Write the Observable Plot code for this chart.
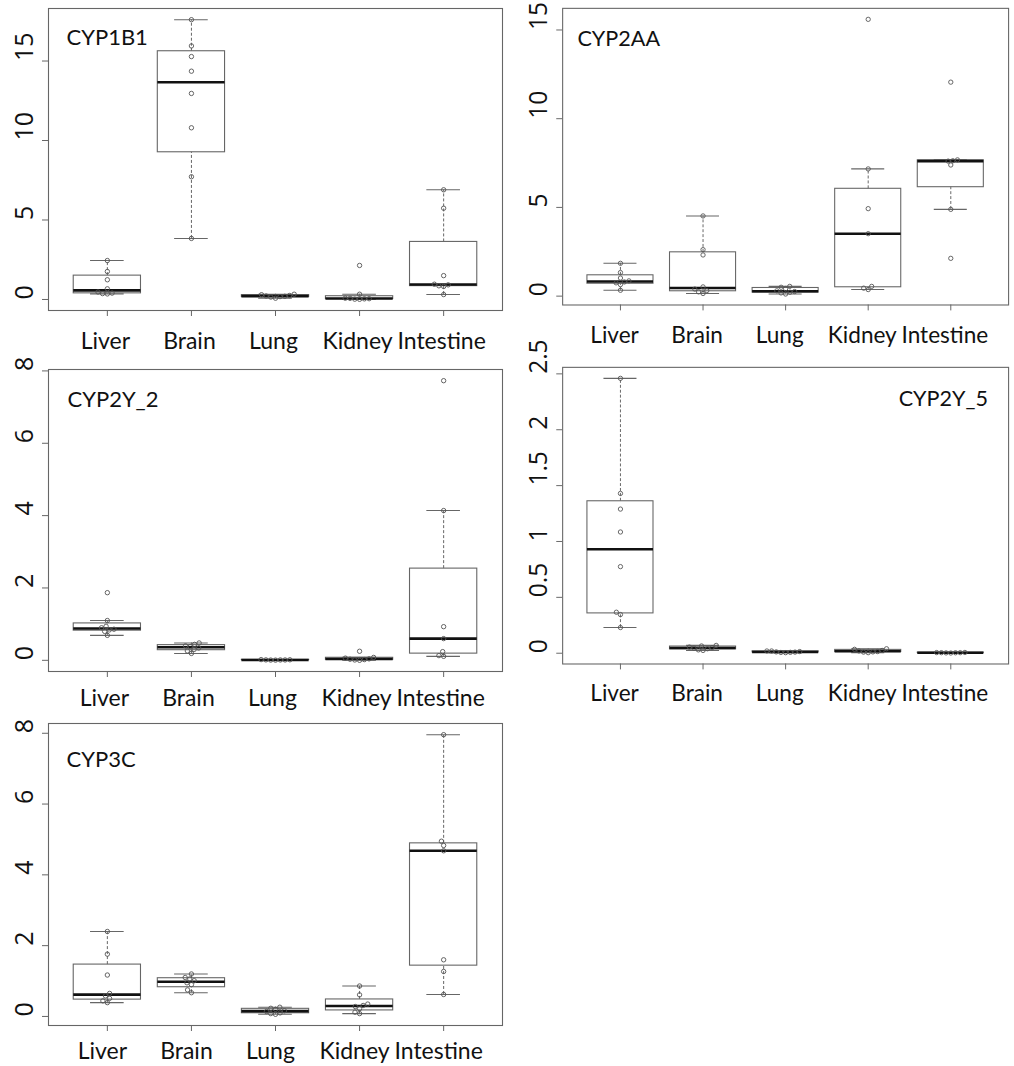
<!DOCTYPE html>
<html><head><meta charset="utf-8">
<script src="https://cdn.jsdelivr.net/npm/d3@7"></script>
<script src="https://cdn.jsdelivr.net/npm/@observablehq/plot@0.6"></script>
<style>
html,body{margin:0;padding:0;background:#fff;}
body{width:1014px;height:1066px;overflow:hidden;position:relative;font-family:"Open Sans",sans-serif;}
.panel{position:absolute;}
</style></head><body>
<script>
// ---- data ----
const tissues = ["Liver", "Brain", "Lung", "Kidney", "Intestine"];
const genes = ["CYP1B1", "CYP2AA", "CYP2Y_2", "CYP2Y_5", "CYP3C"];

const cyp1b1 = [
  [0.35, 0.37, 0.40, 0.47, 0.67, 1.24, 1.76, 2.45],
  [3.84, 7.72, 10.8, 12.96, 14.36, 15.28, 15.95, 17.6],
  [0.08, 0.15, 0.18, 0.20, 0.22, 0.25, 0.30, 0.33],
  [0.01, 0.02, 0.04, 0.05, 0.07, 0.08, 0.33, 2.14],
  [0.31, 0.82, 0.86, 0.92, 0.96, 1.5, 5.74, 6.9]
];
const cyp2aa = [
  [0.33, 0.65, 0.75, 0.80, 0.86, 1.02, 1.33, 1.85],
  [0.15, 0.24, 0.31, 0.40, 0.52, 2.32, 2.62, 4.52],
  [0.12, 0.18, 0.22, 0.26, 0.30, 0.42, 0.50, 0.55],
  [0.37, 0.45, 0.55, 3.52, 4.93, 7.17, 15.6],
  [2.13, 4.89, 7.39, 7.61, 7.63, 7.68, 12.06]
];
const cyp2y2 = [
  [0.69, 0.80, 0.84, 0.86, 0.90, 0.94, 1.10, 1.87],
  [0.19, 0.26, 0.30, 0.34, 0.38, 0.40, 0.44, 0.48],
  [0.005, 0.007, 0.01, 0.01, 0.012, 0.015, 0.02],
  [0.00, 0.01, 0.02, 0.03, 0.04, 0.06, 0.08, 0.25],
  [0.11, 0.13, 0.24, 0.60, 0.93, 4.14, 7.73]
];
const cyp2y5 = [
  [0.23, 0.346, 0.367, 0.775, 1.085, 1.29, 1.43, 2.46],
  [0.025, 0.03, 0.04, 0.045, 0.05, 0.055, 0.065, 0.07],
  [0.005, 0.007, 0.008, 0.01, 0.012, 0.015, 0.02, 0.02],
  [0.005, 0.01, 0.012, 0.015, 0.02, 0.025, 0.035, 0.04],
  [0.002, 0.003, 0.004, 0.005, 0.005, 0.006, 0.007]
];
const cyp3c = [
  [0.39, 0.44, 0.51, 0.58, 0.65, 1.17, 1.76, 2.40],
  [0.67, 0.75, 0.90, 0.95, 1.01, 1.06, 1.10, 1.20],
  [0.06, 0.08, 0.10, 0.14, 0.16, 0.20, 0.23, 0.26],
  [0.08, 0.12, 0.22, 0.28, 0.31, 0.35, 0.61, 0.86],
  [0.62, 1.27, 1.60, 4.68, 4.83, 4.95, 7.96]
];

const ticks1b1 = [0, 5, 10, 15];
const ticks2aa = [0, 5, 10, 15];
const ticks2y2 = [0, 2, 4, 6, 8];
const ticks2y5 = [0, 0.5, 1, 1.5, 2, 2.5];
const ticks3c = [0, 2, 4, 6, 8];

// ---- layout ----
const ML = 48, MR = 6, MT = 8, MB = 45, IW = 454, IH = 302;
const W = ML + IW + MR, H = MT + IH + MB;
const layout = [
  {values: cyp1b1, ticks: ticks1b1, left: 0,   top: 0,   anchor: "top-left",  dx: 18,  dy: 21, pad: 16, ldx: -2},
  {values: cyp2aa, ticks: ticks2aa, left: 515, top: 0,   anchor: "top-left",  dx: 15,  dy: 23, pad: 16, ldx: -6},
  {values: cyp2y2, ticks: ticks2y2, left: 0,   top: 361, anchor: "top-left",  dx: 19,  dy: 22, pad: 12, ldx: -3},
  {values: cyp2y5, ticks: ticks2y5, left: 515, top: 359, anchor: "top-right", dx: -21, dy: 24, pad: 15, ldx: -6},
  {values: cyp3c,  ticks: ticks3c,  left: 0,   top: 715, anchor: "top-left",  dx: 18,  dy: 28, pad: 11, ldx: -5}
];

// R-style boxplot statistics (fivenum hinges, 1.5*IQR whiskers)
function fivenum(a) {
  const x = a.slice().sort((p, q) => p - q), n = x.length;
  const n4 = Math.floor((n + 3) / 2) / 2;
  return [1, n4, (n + 1) / 2, n + 1 - n4, n].map(k => 0.5 * (x[Math.floor(k) - 1] + x[Math.ceil(k) - 1]));
}
function boxStats(vals, i) {
  const f = fivenum(vals), iqr = f[3] - f[1];
  const hi = d3.max(vals.filter(v => v <= f[3] + 1.5 * iqr));
  const lo = d3.min(vals.filter(v => v >= f[1] - 1.5 * iqr));
  return {i: i + 1, lo, q1: f[1], med: f[2], q3: f[3], hi};
}
// beeswarm-like horizontal offsets (pixels)
function swarm(vals, ypx, d) {
  const order = vals.map((v, i) => i).sort((a, b) => vals[a] - vals[b]);
  const placed = [], off = new Array(vals.length);
  for (const i of order) {
    const y = ypx(vals[i]);
    const cands = [0];
    for (const p of placed) {
      const dy = Math.abs(p.y - y);
      if (dy < d) { const w = Math.sqrt(d * d - dy * dy); cands.push(p.x - w, p.x + w); }
    }
    cands.sort((a, b) => Math.abs(a) - Math.abs(b) || a - b);
    let best = 0;
    for (const c of cands) {
      if (placed.every(p => (p.x - c) ** 2 + (p.y - y) ** 2 >= d * d - 1e-6)) { best = c; break; }
    }
    placed.push({x: best, y}); off[i] = best;
  }
  return off;
}

const xDomain = [0.3, 5.7];
const pxPerUnit = IW / (xDomain[1] - xDomain[0]);

layout.forEach((L, k) => {
  const all = L.values.flat();
  const [mn, mx] = d3.extent(all);
  const pad = (mx - mn) * 0.04;
  const yDomain = [mn - pad, mx + pad];
  const ypx = d3.scaleLinear().domain(yDomain).range([MT + IH, MT]);
  const stats = L.values.map((v, i) => boxStats(v, i));
  const pts = [];
  L.values.forEach((vals, i) => {
    const off = swarm(vals, ypx, 4.8);
    vals.forEach((v, j) => pts.push({x: i + 1 + off[j] / pxPerUnit, v}));
  });
  const gray = "#666";
  const chart = Plot.plot({
    width: W, height: H,
    marginLeft: ML, marginRight: MR, marginTop: MT, marginBottom: MB,
    style: {fontFamily: "'Open Sans', sans-serif", background: "transparent", color: "#111", overflow: "visible"},
    x: {domain: xDomain, label: null},
    y: {domain: yDomain, label: null},
    marks: [
      Plot.frame({stroke: gray, strokeWidth: 1.1}),
      Plot.axisX({ticks: [1, 2, 3, 4, 5], tickFormat: () => "", tickSize: 6, stroke: gray}),
      Plot.axisX({ticks: [1, 2, 3, 4, 5], tickFormat: i => tissues[i - 1], tickSize: 0, tickPadding: L.pad + 6,
                  fontSize: 23, fontFamily: "Lato", fill: "#111", dx: L.ldx}),
      Plot.axisY({ticks: L.ticks, tickSize: 6, tickFormat: () => "", stroke: gray, label: null}),
      Plot.text(L.ticks, {y: d => d, text: d => String(d), frameAnchor: "left", dx: -24, rotate: -90,
                          fontSize: 25, fill: "#111"}),
      Plot.rect(stats, {x1: d => d.i - 0.4, x2: d => d.i + 0.4, y1: "q1", y2: "q3", fill: "none", stroke: gray, strokeWidth: 1.1}),
      Plot.ruleX(stats, {x: "i", y1: "q3", y2: "hi", stroke: gray, strokeDasharray: "3,2"}),
      Plot.ruleX(stats, {x: "i", y1: "lo", y2: "q1", stroke: gray, strokeDasharray: "3,2"}),
      Plot.ruleY(stats, {y: "hi", x1: d => d.i - 0.2, x2: d => d.i + 0.2, stroke: gray, strokeWidth: 1.1}),
      Plot.ruleY(stats, {y: "lo", x1: d => d.i - 0.2, x2: d => d.i + 0.2, stroke: gray, strokeWidth: 1.1}),
      Plot.ruleY(stats, {y: "med", x1: d => d.i - 0.4, x2: d => d.i + 0.4, stroke: "#111", strokeWidth: 2.6}),
      Plot.dot(pts, {x: "x", y: "v", r: 2.2, stroke: "#555", strokeWidth: 0.9, fill: "none"}),
      Plot.text([genes[k]], {frameAnchor: L.anchor, dx: L.dx, dy: L.dy, text: d => d, fontSize: 22, fontFamily: "Lato",
                             textAnchor: L.anchor === "top-right" ? "end" : "start", lineAnchor: "top", fill: "#111"})
    ]
  });
  const div = document.createElement("div");
  div.className = "panel";
  div.style.left = L.left + "px";
  div.style.top = L.top + "px";
  div.appendChild(chart);
  document.body.appendChild(div);
});
</script>
</body></html>
